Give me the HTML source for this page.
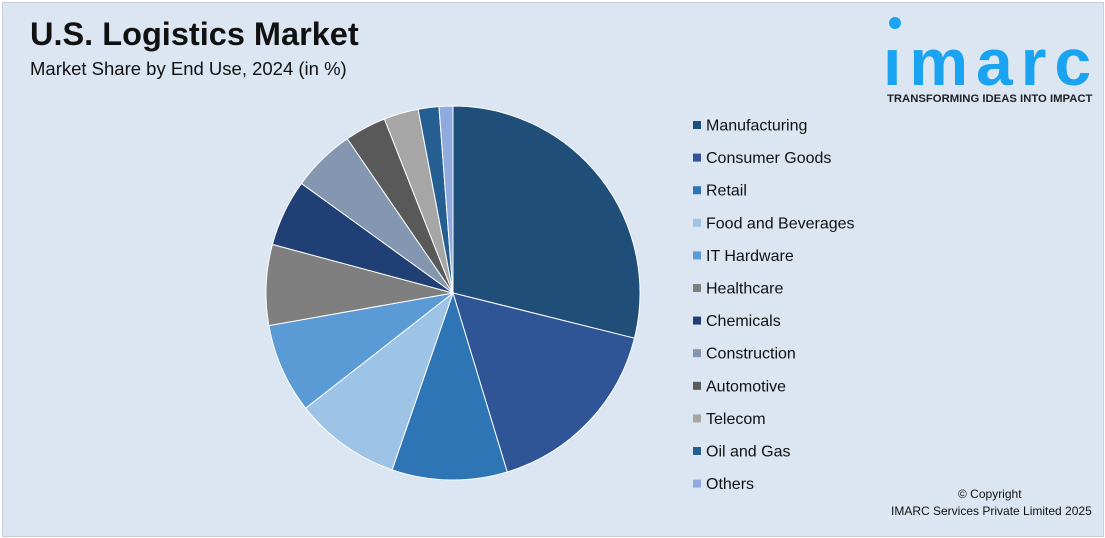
<!DOCTYPE html>
<html><head><meta charset="utf-8"><style>
body{margin:0;width:1105px;height:538px;background:#fff;font-family:"Liberation Sans",sans-serif;overflow:hidden}
#wrap{position:absolute;left:2px;top:2px;width:1100px;height:533px;background:#dce5f2;border:1px solid #c8ced8}
.t{position:absolute;color:#111}
</style></head><body>
<div id="wrap">
<div class="t" style="left:27px;top:13px;font-size:32.5px;font-weight:bold">U.S. Logistics Market</div>
<div class="t" style="left:27px;top:55px;font-size:18.5px">Market Share by End Use, 2024 (in %)</div>
<div style="position:absolute;left:880px;top:10px;width:215px;height:95px">
<div style="position:absolute;left:6px;top:4px;width:12px;height:12px;border-radius:50%;background:#1aa3f0"></div>
<div style="position:absolute;left:0;top:14px;font-size:66px;font-weight:bold;color:#1aa3f0;letter-spacing:8px;line-height:70px">ımarc</div>
<div style="position:absolute;left:4px;top:80px;font-size:11.3px;font-weight:bold;color:#222;white-space:nowrap">TRANSFORMING IDEAS INTO IMPACT</div>
</div>
<svg id="pie" width="1100" height="533" style="position:absolute;left:0;top:0"></svg>
<div class="t" style="left:955px;top:484px;font-size:12px">© Copyright</div>
<div class="t" style="left:888px;top:501px;font-size:12px">IMARC Services Private Limited 2025</div>
</div>
<script>
const categories=["Manufacturing","Consumer Goods","Retail","Food and Beverages","IT Hardware","Healthcare","Chemicals","Construction","Automotive","Telecom","Oil and Gas","Others"];
const values=[29,16.5,10,9.2,7.8,7,5.8,5.5,3.6,3,1.8,1.2];
const colors=["#1f4e79","#2f5597","#2e75b6","#9dc3e6","#5b9bd5","#7f7f7f","#203f74","#8497b0","#595959","#a6a6a6","#255e91","#8faadc"];
const svg=document.getElementById('pie');
const NS="http://www.w3.org/2000/svg";
const cx=450,cy=290,r=187;
const total=values.reduce((a,b)=>a+b,0);
let acc=0;
function pt(f){const a=f*2*Math.PI;return [cx+r*Math.sin(a),cy-r*Math.cos(a)];}
values.forEach((v,i)=>{
  const f0=acc/total;acc+=v;const f1=acc/total;
  const [x0,y0]=pt(f0),[x1,y1]=pt(f1);
  const p=document.createElementNS(NS,'path');
  p.setAttribute('d',`M${cx},${cy}L${x0},${y0}A${r},${r} 0 ${f1-f0>0.5?1:0} 1 ${x1},${y1}Z`);
  p.setAttribute('fill',colors[i]);
  p.setAttribute('stroke','#fff');p.setAttribute('stroke-width','1');
  
  
  svg.appendChild(p);
  const y=122+i*32.6;
  const g=document.createElementNS(NS,'g');
  
  
  const s=document.createElementNS(NS,'rect');
  s.setAttribute('x',690);s.setAttribute('y',y-4);s.setAttribute('width',8);s.setAttribute('height',8);s.setAttribute('fill',colors[i]);
  const t=document.createElementNS(NS,'text');
  t.setAttribute('x',703);t.setAttribute('y',y+5.5);t.setAttribute('font-size','16');t.setAttribute('fill','#111');
  t.setAttribute('font-family','Liberation Sans, sans-serif');
  t.textContent=categories[i];
  g.appendChild(s);g.appendChild(t);svg.appendChild(g);
});
</script>
</body></html>
